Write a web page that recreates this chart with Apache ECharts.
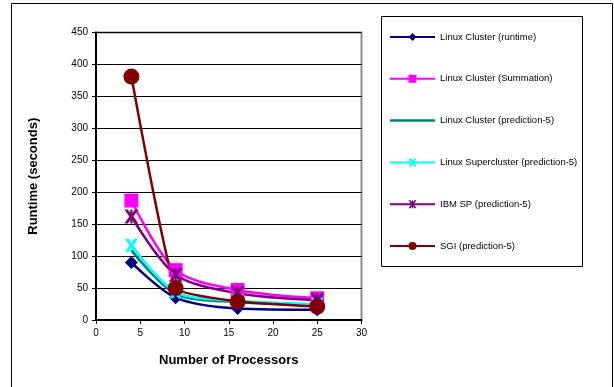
<!DOCTYPE html>
<html>
<head>
<meta charset="utf-8">
<script src="https://cdn.jsdelivr.net/npm/echarts@6/dist/echarts.min.js"></script>
<style>
  html, body { margin: 0; padding: 0; background: #fff; }
  #chart { width: 614px; height: 387px; }
</style>
</head>
<body>
<div id="chart"></div>
<script>
// processor counts
const processors = [4, 9, 16, 25]
// runtimes (seconds)
const linuxRuntime = [90, 35, 18, 16]
const linuxSummation = [187, 78, 47, 34]
const linuxPred = [109, 41, 28, 23]
const superPred = [117, 44, 30, 25]
const ibmPred = [162, 71, 42, 31]
const sgiPred = [381, 50, 29, 21]

const seriesNames = [
  'Linux Cluster (runtime)',
  'Linux Cluster (Summation)',
  'Linux Cluster (prediction-5)',
  'Linux Supercluster (prediction-5)',
  'IBM SP (prediction-5)',
  'SGI (prediction-5)'
]

const xPath = 'path://M0,0 L3,0 L5,3 L7,0 L10,0 L6.5,5 L10,10 L7,10 L5,7 L3,10 L0,10 L3.5,5 Z'
const starPath = 'path://M0,0 L2.5,0 L5,3.5 L7.5,0 L10,0 L6.5,5 L10,10 L7.5,10 L5,6.5 L2.5,10 L0,10 L3.5,5 Z M4.2,0 L5.8,0 L5.8,10 L4.2,10 Z'

function pairs(vals) {
  return processors.map((p, i) => [p, vals[i]])
}

function mkSeries(name, vals, color, symbol, size, smooth) {
  return {
    name: name,
    type: 'line',
    data: pairs(vals),
    smooth: smooth,
    symbol: symbol,
    symbolSize: size,
    showSymbol: symbol !== 'none',
    lineStyle: { color: color, width: 2.5 },
    itemStyle: { color: color },
    emphasis: { disabled: true }
  }
}

const chart = echarts.init(document.getElementById('chart'))
chart.setOption({
  animation: false,
  textStyle: { fontFamily: 'Liberation Sans, Arial, sans-serif' },
  grid: {
    left: 96, top: 32.5, right: 252.5, bottom: 67,
    show: true, borderColor: '#8c8c8c', borderWidth: 2, backgroundColor: '#fff'
  },
  xAxis: {
    type: 'value', min: 0, max: 30, interval: 5,
    name: 'Number of Processors', nameLocation: 'middle', nameGap: 34,
    nameTextStyle: { fontSize: 13, fontWeight: 'bold', color: '#000' },
    axisLine: { show: true, lineStyle: { color: '#000', width: 2 } },
    axisTick: { show: true, length: 4, lineStyle: { color: '#000' } },
    axisLabel: { fontSize: 10, color: '#000', margin: 8 },
    splitLine: { show: false }
  },
  yAxis: {
    type: 'value', min: 0, max: 450, interval: 50,
    name: 'Runtime (seconds)', nameLocation: 'middle', nameGap: 56,
    nameTextStyle: { fontSize: 13, fontWeight: 'bold', color: '#000' },
    axisLine: { show: true, lineStyle: { color: '#000', width: 2 } },
    axisTick: { show: true, length: 4, lineStyle: { color: '#000' } },
    axisLabel: { fontSize: 10, color: '#000', margin: 8 },
    splitLine: { show: true, lineStyle: { color: '#000', width: 1 } }
  },
  legend: {
    orient: 'vertical',
    left: 381, top: 16,
    padding: [16, 8, 13, 8],
    itemWidth: 45, itemHeight: 10, itemGap: 31.8,
    textStyle: { fontSize: 9.5, color: '#000' },
    data: [
      seriesNames[0], seriesNames[1],
      { name: seriesNames[2], icon: 'path://M0,0 L45,0 L45,2.5 L0,2.5 Z' },
      seriesNames[3], seriesNames[4], seriesNames[5]
    ]
  },
  graphic: [
    { type: 'rect', shape: { x: 381.5, y: 16.5, width: 201, height: 250 },
      style: { fill: 'none', stroke: '#000', lineWidth: 1 }, silent: true },
    { type: 'rect', shape: { x: 11.5, y: 3.5, width: 601, height: 400 },
      style: { fill: 'none', stroke: '#000', lineWidth: 1 }, silent: true }
  ],
  series: [
    mkSeries(seriesNames[0], linuxRuntime, '#000080', 'diamond', 13, 0.3),
    mkSeries(seriesNames[1], linuxSummation, '#ff00ff', 'rect', 14, 0.3),
    mkSeries(seriesNames[2], linuxPred, '#008080', 'none', 0, 0.3),
    mkSeries(seriesNames[3], superPred, '#00ffff', xPath, 13, 0.3),
    mkSeries(seriesNames[4], ibmPred, '#800080', starPath, 14, 0.3),
    mkSeries(seriesNames[5], sgiPred, '#800000', 'circle', 16, 0.12)
  ]
})
</script>
</body>
</html>
